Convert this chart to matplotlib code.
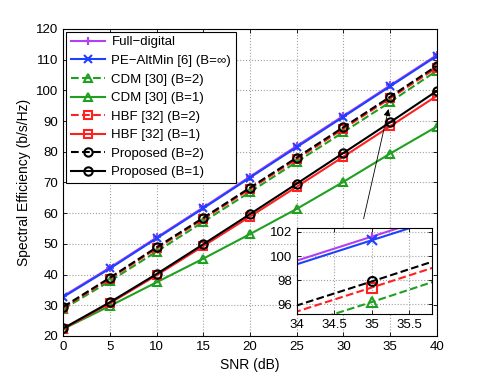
"""Spectral efficiency versus SNR, with a zoomed inset near SNR = 35 dB."""

import matplotlib
matplotlib.use("Agg")
import matplotlib.pyplot as plt

plt.rcParams["font.family"] = ["Liberation Sans", "DejaVu Sans"]

snr_db = [0, 5, 10, 15, 20, 25, 30, 35, 40]

full_digital = [33.0, 42.3, 52.1, 61.9, 71.9, 81.9, 91.7, 101.6, 111.5]
pe_altmin = [32.7, 42.0, 51.8, 61.6, 71.6, 81.5, 91.4, 101.3, 111.2]
cdm_b2 = [28.8, 37.9, 47.5, 57.2, 66.9, 76.7, 86.4, 96.2, 106.4]
cdm_b1 = [22.3, 29.8, 37.5, 45.2, 53.2, 61.4, 70.2, 79.4, 88.2]
hbf_b2 = [29.2, 38.7, 48.5, 58.1, 67.9, 77.6, 87.5, 97.4, 107.4]
hbf_b1 = [22.3, 30.7, 39.8, 49.3, 58.9, 68.6, 78.4, 88.3, 98.2]
proposed_b2 = [29.5, 39.0, 48.9, 58.5, 68.3, 78.1, 88.0, 97.9, 108.0]
proposed_b1 = [22.5, 31.0, 40.2, 49.9, 59.7, 69.6, 79.6, 89.6, 99.8]

PURPLE = "#b040f0"
BLUE = "#2040ff"
GREEN = "#20a020"
RED = "#ff2020"
BLACK = "#000000"

series = [
    ("Full\u2212digital", full_digital, PURPLE, "-", "+"),
    ("PE\u2212AltMin [6] (B=\u221e)", pe_altmin, BLUE, "-", "x"),
    ("CDM [30] (B=2)", cdm_b2, GREEN, "--", "^"),
    ("CDM [30] (B=1)", cdm_b1, GREEN, "-", "^"),
    ("HBF [32] (B=2)", hbf_b2, RED, "--", "s"),
    ("HBF [32] (B=1)", hbf_b1, RED, "-", "s"),
    ("Proposed (B=2)", proposed_b2, BLACK, "--", "o"),
    ("Proposed (B=1)", proposed_b1, BLACK, "-", "o"),
]


def draw_series(ax, marker_size):
    for label, values, color, style, marker in series:
        ax.plot(
            snr_db,
            values,
            color=color,
            linestyle=style,
            linewidth=1.5,
            marker=marker,
            markersize=marker_size,
            markerfacecolor="none",
            markeredgewidth=1.5,
            label=label,
        )


def style_axes(ax, size):
    ax.grid(True, linestyle=":", color="#a0a0a0", linewidth=0.8)
    ax.tick_params(
        direction="in", top=True, right=True, labelsize=size,
        length=3, width=0.6,
    )
    for spine in ax.spines.values():
        spine.set_linewidth(0.8)


fig = plt.figure(figsize=(4.85, 3.79), dpi=100)
ax = fig.add_axes([0.1305, 0.1135, 0.77, 0.81])
draw_series(ax, 6)
ax.set_xlim(0, 40)
ax.set_ylim(20, 120)
ax.set_xticks(range(0, 41, 5))
ax.set_yticks(range(20, 121, 10))
style_axes(ax, 9.5)
ax.set_xlabel("SNR (dB)", fontsize=10)
ax.set_ylabel("Spectral Efficiency (b/s/Hz)", fontsize=10)

legend = ax.legend(
    loc="upper left", fontsize=9.5, handlelength=2.6, borderaxespad=0.2,
    labelspacing=0.48, fancybox=False, framealpha=1, borderpad=0.35,
    handletextpad=0.5,
)
legend.get_frame().set_edgecolor("black")
legend.get_frame().set_linewidth(0.8)

ax.annotate(
    "",
    xy=(34.9, 94.8),
    xytext=(32.1, 57.3),
    arrowprops=dict(arrowstyle="-|>", color="black", lw=0.6,
                    mutation_scale=10),
)

inset = fig.add_axes([0.612, 0.171, 0.278, 0.227])
draw_series(inset, 6.5)
inset.set_xlim(34, 35.8)
inset.set_ylim(95.2, 102.3)
inset.set_xticks([34, 34.5, 35, 35.5])
inset.set_xticklabels(["34", "34.5", "35", "35.5"])
inset.set_yticks([96, 98, 100, 102])
style_axes(inset, 9.5)

fig.savefig("out.png", dpi=100)
